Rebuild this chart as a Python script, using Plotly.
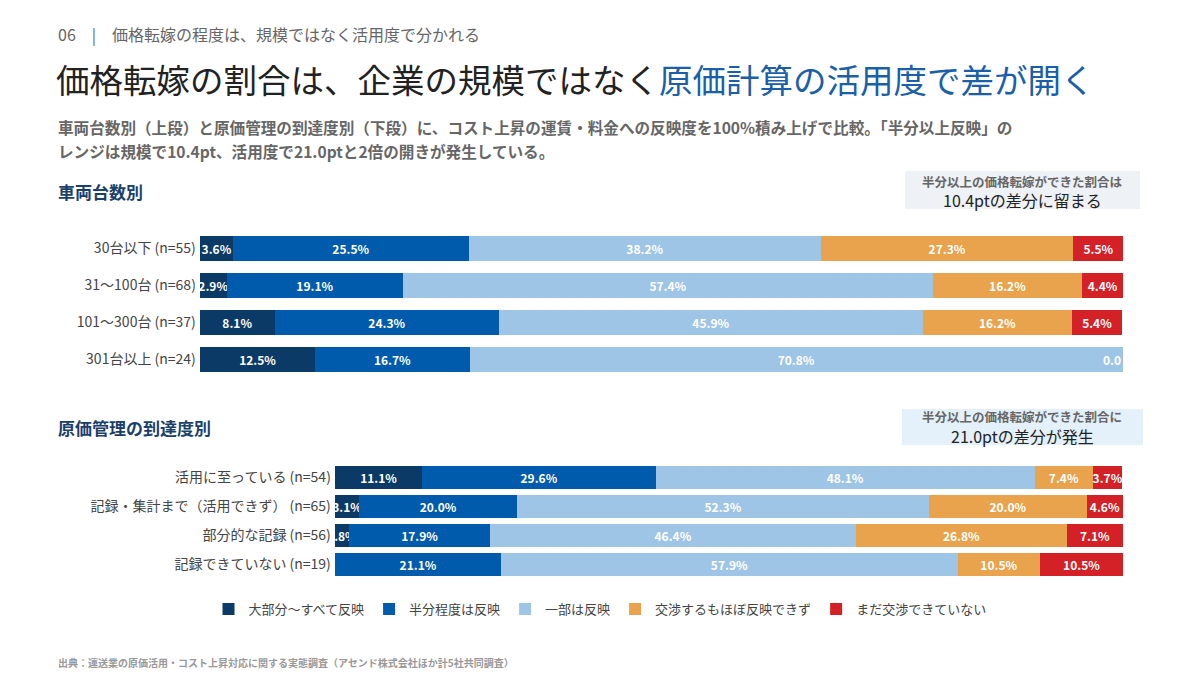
import plotly.graph_objects as go

series = ["大部分～すべて反映", "半分程度は反映", "一部は反映", "交渉するもほぼ反映できず", "まだ交渉できていない"]
colors = ["#0b3a66", "#005bac", "#9fc5e6", "#e8a34c", "#d42027"]

top_cats = ["30台以下 (n=55)", "31～100台 (n=68)", "101～300台 (n=37)", "301台以上 (n=24)"]
top_vals = [
    [3.6, 2.9, 8.1, 12.5],
    [25.5, 19.1, 24.3, 16.7],
    [38.2, 57.4, 45.9, 70.8],
    [27.3, 16.2, 16.2, 0.0],
    [5.5, 4.4, 5.4, 0.0],
]
bot_cats = ["活用に至っている (n=54)", "記録・集計まで（活用できず） (n=65)", "部分的な記録 (n=56)", "記録できていない (n=19)"]
bot_vals = [
    [11.1, 3.1, 1.8, 0.0],
    [29.6, 20.0, 17.9, 21.1],
    [48.1, 52.3, 46.4, 57.9],
    [7.4, 20.0, 26.8, 10.5],
    [3.7, 4.6, 7.1, 10.5],
]

W, H = 1200, 677
OFF = 8
def px(y): return 1 - (y - OFF) / H
def pxx(x): return (x - OFF) / W

fig = go.Figure()
for i, (name, col) in enumerate(zip(series, colors)):
    fig.add_trace(go.Bar(
        y=top_cats, x=top_vals[i], orientation="h", name=name, marker_color=col,
        marker_line_width=0, width=0.7, xaxis="x", yaxis="y",
        text=[f"<b>{v:.1f}%</b>" if v > 0 else "" for v in top_vals[i]],
        textposition="inside", insidetextanchor="middle", constraintext="none", textangle=0,
        textfont=dict(color="white", size=12, family="Noto Sans CJK JP"),
        hoverinfo="skip", legendgroup=name, showlegend=True))
    fig.add_trace(go.Bar(
        y=bot_cats, x=bot_vals[i], orientation="h", name=name, marker_color=col,
        marker_line_width=0, width=0.8, xaxis="x2", yaxis="y2",
        text=[f"<b>{v:.1f}%</b>" if v > 0 else "" for v in bot_vals[i]],
        textposition="inside", insidetextanchor="middle", constraintext="none", textangle=0,
        textfont=dict(color="white", size=12, family="Noto Sans CJK JP"),
        hoverinfo="skip", legendgroup=name, showlegend=False))

ax = dict(range=[0, 100], showgrid=False, zeroline=False, showticklabels=False, fixedrange=True)
yax = dict(autorange="reversed", showgrid=False, ticks="", tickfont=dict(size=14, color="#444"), ticksuffix=" ")
fig.update_layout(
    width=W, height=H, margin=dict(l=0, r=0, t=0, b=0),
    paper_bgcolor="white", plot_bgcolor="white", barmode="stack",
    font=dict(family="Noto Sans CJK JP", color="#333"),
    xaxis=dict(domain=[pxx(200), pxx(1123)], anchor="y", **ax),
    yaxis=dict(domain=[px(378), px(230)], anchor="x", **yax),
    xaxis2=dict(domain=[pxx(335), pxx(1123)], anchor="y2", **ax),
    yaxis2=dict(domain=[px(579), px(463)], anchor="x2", **yax),
    legend=dict(orientation="h", x=pxx(600), xanchor="center", y=px(609), yanchor="middle",
                font=dict(size=13, color="#444"), itemwidth=30, traceorder="normal"),
    showlegend=True,
)

shapes = [
    dict(type="rect", xref="paper", yref="paper", x0=pxx(905), x1=pxx(1140), y0=px(209), y1=px(171),
         fillcolor="#eef1f5", line_width=0, layer="below"),
    dict(type="rect", xref="paper", yref="paper", x0=pxx(902), x1=pxx(1143), y0=px(445), y1=px(409),
         fillcolor="#e4f0fa", line_width=0, layer="below"),
]
fig.update_layout(shapes=shapes)

def ann(x, y, text, size, color, anchor="left", bold=False):
    fig.add_annotation(xref="paper", yref="paper", x=pxx(x), y=px(y), text=f"<b>{text}</b>" if bold else text,
                       showarrow=False, xanchor=anchor, yanchor="middle",
                       font=dict(size=size, color=color, family="Noto Sans CJK JP"))

ann(56, 34, "06　|　価格転嫁の程度は、規模ではなく活用度で分かれる", 16, "#666")
ann(54, 78, "価格転嫁の割合は、企業の規模ではなく<span style='color:#1a5fa8'>原価計算の活用度で差が開く</span>", 33.5, "#222")
ann(56, 127, "車両台数別（上段）と原価管理の到達度別（下段）に、コスト上昇の運賃・料金への反映度を100%積み上げで比較。「半分以上反映」の", 15.6, "#666", bold=True)
ann(56, 151, "レンジは規模で10.4pt、活用度で21.0ptと2倍の開きが発生している。", 15.6, "#666", bold=True)
ann(56, 191, "車両台数別", 17, "#1b3f6b", bold=True)
ann(56, 427, "原価管理の到達度別", 17, "#1b3f6b", bold=True)
ann(1022, 181, "半分以上の価格転嫁ができた割合は", 12.5, "#666", "center", True)
ann(1022, 200, "10.4ptの差分に留まる", 16, "#222", "center")
ann(1022, 417, "半分以上の価格転嫁ができた割合に", 12.5, "#666", "center", True)
ann(1022, 436, "21.0ptの差分が発生", 16, "#222", "center")
fig.add_annotation(xref="x", yref="y", x=100, y=top_cats[3], text="<b>0.0</b>", showarrow=False,
                   xanchor="right", font=dict(size=12, color="white"))
ann(56, 662, "出典：運送業の原価活用・コスト上昇対応に関する実態調査（アセンド株式会社ほか計5社共同調査）", 10, "#999", bold=True)

fig.write_html("out.html")
